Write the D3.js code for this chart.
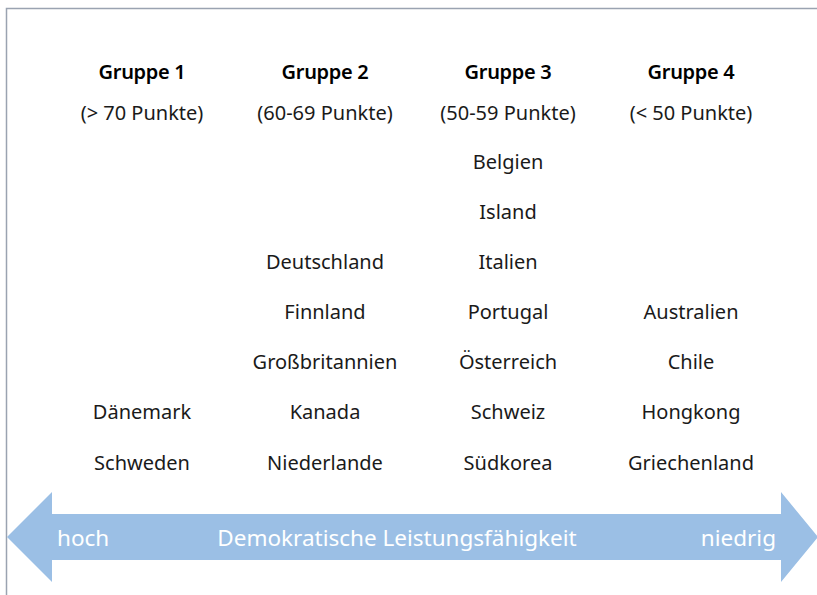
<!DOCTYPE html>
<html lang="de">
<head>
  <meta charset="UTF-8">
  <title>Demokratische Leistungsfähigkeit</title>
  <script src="https://d3js.org/d3.v7.min.js"></script>
  <style>
    body { margin: 0; background: #fff; font-family: "Noto Sans", "Open Sans", sans-serif; }
    svg { display: block; }
  </style>
</head>
<body>
  <svg id="chart" width="817" height="595"></svg>
  <script>
    // Gruppen und Länder (von oben nach unten, unten ausgerichtet)
    const groups = ["Gruppe 1", "Gruppe 2", "Gruppe 3", "Gruppe 4"];
    const ranges = ["(> 70 Punkte)", "(60-69 Punkte)", "(50-59 Punkte)", "(< 50 Punkte)"];
    const group1 = ["Dänemark", "Schweden"];
    const group2 = ["Deutschland", "Finnland", "Großbritannien", "Kanada", "Niederlande"];
    const group3 = ["Belgien", "Island", "Italien", "Portugal", "Österreich", "Schweiz", "Südkorea"];
    const group4 = ["Australien", "Chile", "Hongkong", "Griechenland"];
    const countries = [group1, group2, group3, group4];
    const arrowLabels = ["hoch", "Demokratische Leistungsfähigkeit", "niedrig"];

    const width = 817, height = 595;
    const svg = d3.select("#chart");

    const x = d3.scalePoint().domain(groups).range([142, 691]);
    const maxRows = d3.max(countries, d => d.length);
    // Zeile 0 = oberste Länderzeile
    const y = d3.scaleLinear().domain([0, maxRows - 1]).range([161, 462]);

    // Rahmen (links und oben)
    svg.append("path")
      .attr("d", `M6.5,${height} V8.5 H${width}`)
      .attr("fill", "none")
      .attr("stroke", "#9aa3b1")
      .attr("stroke-width", 1.5);

    // Doppelpfeil
    const ay = 537, shaftH = 46, headH = 90;
    const x0 = 7, x1 = 52, x2 = 781, x3 = 818;
    const arrow = [
      [x0, ay], [x1, ay - headH / 2], [x1, ay - shaftH / 2], [x2, ay - shaftH / 2],
      [x2, ay - headH / 2], [x3, ay], [x2, ay + headH / 2], [x2, ay + shaftH / 2],
      [x1, ay + shaftH / 2], [x1, ay + headH / 2]
    ];
    svg.append("path")
      .attr("d", d3.line()(arrow) + "Z")
      .attr("fill", "#9bbfe5");

    const labelStyle = g => g.attr("fill", "#fff").attr("font-size", 22.5).attr("dominant-baseline", "central");
    svg.append("text").call(labelStyle).attr("x", 57).attr("y", ay).text(arrowLabels[0]);
    svg.append("text").call(labelStyle).attr("x", 397).attr("y", ay).attr("text-anchor", "middle").text(arrowLabels[1]);
    svg.append("text").call(labelStyle).attr("x", 776).attr("y", ay).attr("text-anchor", "end").text(arrowLabels[2]);

    // Spaltenköpfe
    const cols = svg.selectAll("g.col")
      .data(groups)
      .join("g")
      .attr("class", "col")
      .attr("transform", d => `translate(${x(d)},0)`);

    cols.append("text")
      .attr("y", 71)
      .attr("text-anchor", "middle")
      .attr("dominant-baseline", "central")
      .attr("font-size", 20)
      .attr("font-weight", 600)
      .attr("letter-spacing", -0.3)
      .attr("fill", "#000")
      .text(d => d);

    cols.append("text")
      .attr("y", 112)
      .attr("text-anchor", "middle")
      .attr("dominant-baseline", "central")
      .attr("font-size", 20)
      .attr("fill", "#1a1a1a")
      .text((d, i) => ranges[i]);

    cols.each(function(d, i) {
      const list = countries[i];
      const offset = maxRows - list.length;
      d3.select(this).selectAll("text.country")
        .data(list)
        .join("text")
        .attr("class", "country")
        .attr("y", (c, j) => y(offset + j))
        .attr("text-anchor", "middle")
        .attr("dominant-baseline", "central")
        .attr("font-size", 20)
        .attr("fill", "#1a1a1a")
        .text(c => c);
    });
  </script>
</body>
</html>
